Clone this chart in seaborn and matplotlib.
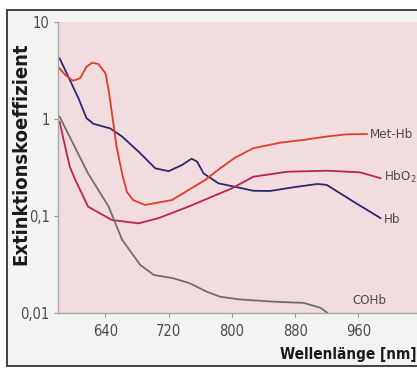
import matplotlib
matplotlib.use("Agg")
import matplotlib.pyplot as plt
import seaborn as sns
from matplotlib.patches import Rectangle

# Values (wavelength in nm, extinction coefficient)
hb_x = [582, 593, 606, 616, 625, 646, 661, 682, 703, 720, 737, 749, 756, 764,
        783, 804, 827, 848, 878, 908, 920, 954, 988]
hb_y = [4.23, 2.73, 1.63, 1.02, 0.89, 0.80, 0.66, 0.46, 0.31, 0.29, 0.336, 0.39, 0.363, 0.275,
        0.217, 0.20, 0.182, 0.181, 0.198, 0.214, 0.209, 0.140, 0.095]

methb_x = [580, 589, 599, 608, 616, 623, 631, 640, 644, 647, 650, 654, 661, 667, 675,
           690, 724, 766, 785, 804, 827, 861, 891, 920, 945, 971]
methb_y = [3.46, 2.85, 2.48, 2.63, 3.46, 3.80, 3.69, 2.96, 1.99, 1.34, 0.90, 0.52, 0.275, 0.178, 0.146,
           0.130, 0.146, 0.235, 0.31, 0.40, 0.50, 0.57, 0.61, 0.66, 0.695, 0.70]

hbo2_x = [582, 589, 595, 602, 618, 648, 682, 707, 745, 800, 827, 870, 920, 962, 988]
hbo2_y = [0.94, 0.52, 0.32, 0.235, 0.125, 0.091, 0.084, 0.095, 0.125, 0.193, 0.254, 0.286, 0.293, 0.282, 0.245]

cohb_x = [582, 618, 644, 661, 684, 701, 726, 747, 768, 785, 810, 852, 891, 912, 921]
cohb_y = [1.06, 0.275, 0.125, 0.057, 0.0313, 0.0247, 0.0228, 0.0202, 0.0166, 0.0147,
          0.0138, 0.0131, 0.0127, 0.0113, 0.010]

x_ticks = [640, 720, 800, 880, 960]
y_ticks = [0.01, 0.1, 1, 10]
y_tick_labels = ["0,01", "0,1", "1", "10"]

sns.set_theme(style="white")
plt.rcParams['font.family'] = ['DejaVu Sans Condensed', 'Liberation Sans Narrow', 'DejaVu Sans']
plt.rcParams['font.stretch'] = 'condensed'

fig = plt.figure(figsize=(4.17, 3.68), dpi=100)
fig.patch.set_facecolor("white")

# outer frame of the figure
frame = Rectangle((7 / 417, 2 / 368), 1.0, 356 / 368, transform=fig.transFigure,
                  facecolor="#f3f3f1", edgecolor="#222222", linewidth=1.2, zorder=-10)
fig.patches.append(frame)

ax = fig.add_axes([58 / 417, 55 / 368, 359 / 417, 291 / 368])
ax.set_facecolor("#f1dcdf")

lw = 1.3
sns.lineplot(x=hb_x, y=hb_y, color="#2c2a6c", linewidth=lw, sort=False, ax=ax)
sns.lineplot(x=methb_x, y=methb_y, color="#e23c2a", linewidth=lw, sort=False, ax=ax)
sns.lineplot(x=hbo2_x, y=hbo2_y, color="#b8264c", linewidth=lw, sort=False, ax=ax)
sns.lineplot(x=cohb_x, y=cohb_y, color="#6f6f6a", linewidth=lw, sort=False, ax=ax)

ax.set_yscale("log")
ax.set_xlim(580, 1034)
ax.set_ylim(0.01, 10)
ax.set_xticks(x_ticks)
ax.set_xticklabels([str(t) for t in x_ticks])
ax.set_yticks(y_ticks)
ax.set_yticklabels(y_tick_labels)
ax.minorticks_off()
ax.tick_params(axis="both", which="both", direction="out", length=3, width=0.8,
               color="#999999", labelcolor="#4a4a4a", labelsize=10.5, pad=3,
               left=True, bottom=True)
ax.tick_params(axis="x", pad=5)

for side in ["top", "right"]:
    ax.spines[side].set_visible(False)
for side in ["left", "bottom"]:
    ax.spines[side].set_color("#a8a8a8")
    ax.spines[side].set_linewidth(1.0)

lab = dict(color="#4a4a4a", fontsize=9.5, va="center", ha="left")
ax.text(974, 0.70, "Met-Hb", **lab)
ax.text(992, 0.25, "HbO$_2$", **lab)
ax.text(992, 0.092, "Hb", **lab)
ax.text(952, 0.0135, "COHb", **lab)

fig.text(21 / 417, 1 - 154 / 368, "Extinktionskoeffizient", rotation=90, ha="center", va="center",
         fontsize=14.5, fontweight="bold", color="#1a1a1a")
fig.text(416 / 417, 1 - 354 / 368, "Wellenlänge [nm]", ha="right", va="center",
         fontsize=11, fontweight="bold", color="#1a1a1a")

fig.savefig("out.png", dpi=100)
